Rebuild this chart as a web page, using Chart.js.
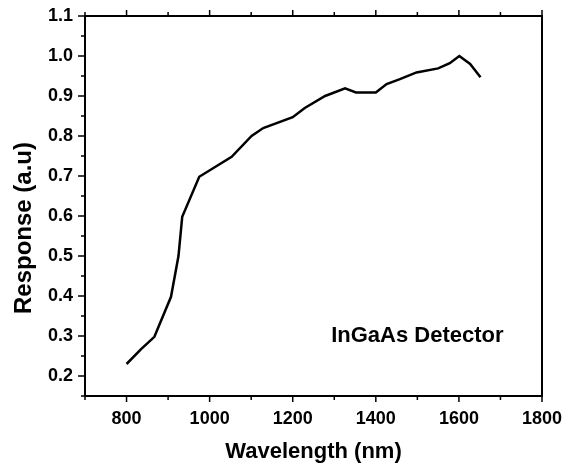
<!DOCTYPE html>
<html>
<head>
<meta charset="utf-8">
<script src="https://cdn.jsdelivr.net/npm/chart.js@4/dist/chart.umd.min.js"></script>
<style>
  html, body { margin: 0; padding: 0; background: #fff; }
  #wrap { width: 566px; height: 471px; }
</style>
</head>
<body>
<div id="wrap"><canvas id="c" width="566" height="471"></canvas></div>
<script>
// ---- data ----
const wavelength = [800, 835, 867, 907, 925, 934, 975, 1017, 1053, 1101, 1129, 1200, 1229, 1278, 1326, 1352, 1400, 1426, 1458, 1498, 1550, 1578, 1601, 1627, 1652];
const response   = [0.23, 0.267, 0.298, 0.398, 0.50, 0.598, 0.698, 0.725, 0.748, 0.80, 0.82, 0.847, 0.87, 0.90, 0.919, 0.909, 0.909, 0.93, 0.942, 0.959, 0.969, 0.982, 1.00, 0.98, 0.947];
const xTickLabels = [800, 1000, 1200, 1400, 1600, 1800];
const yTickLabels = [0.2, 0.3, 0.4, 0.5, 0.6, 0.7, 0.8, 0.9, 1.0, 1.1];
const xMinorTicks = [700, 900, 1100, 1300, 1500, 1700];
const yMinorTicks = [0.15, 0.25, 0.35, 0.45, 0.55, 0.65, 0.75, 0.85, 0.95, 1.05];
const seriesLabel = 'InGaAs Detector';
const xTitle = 'Wavelength (nm)';
const yTitle = 'Response (a.u)';

const FONT = '"Liberation Sans", Arial, sans-serif';

const framePlugin = {
  id: 'frame',
  afterDraw(chart) {
    const {ctx, chartArea: a, scales: {x, y}} = chart;
    ctx.save();
    ctx.strokeStyle = '#000';
    ctx.lineWidth = 2;
    ctx.strokeRect(a.left, a.top, a.right - a.left, a.bottom - a.top);
    ctx.lineWidth = 1.5;
    ctx.beginPath();
    const xt = (v, len) => {
      const px = x.getPixelForValue(v);
      ctx.moveTo(px, a.bottom); ctx.lineTo(px, a.bottom + len);
      ctx.moveTo(px, a.top); ctx.lineTo(px, a.top - len);
    };
    const yt = (v, len) => {
      const py = y.getPixelForValue(v);
      ctx.moveTo(a.left, py); ctx.lineTo(a.left - len, py);
    };
    xTickLabels.forEach(v => xt(v, 6));
    xMinorTicks.forEach(v => xt(v, 4));
    yTickLabels.forEach(v => yt(v, 7));
    yMinorTicks.forEach(v => yt(v, 4));
    ctx.stroke();

    // in-plot label
    ctx.fillStyle = '#000';
    ctx.font = 'bold 22px ' + FONT;
    ctx.textAlign = 'center';
    ctx.textBaseline = 'middle';
    ctx.fillText(seriesLabel, x.getPixelForValue(1500), y.getPixelForValue(0.30));

    // y axis title
    ctx.translate(24, 228);
    ctx.rotate(-Math.PI / 2);
    ctx.font = 'bold 24px ' + FONT;
    ctx.fillText(yTitle, 0, 0);
    ctx.restore();
  }
};

new Chart(document.getElementById('c'), {
  type: 'line',
  data: {
    datasets: [{
      label: seriesLabel,
      data: wavelength.map((w, i) => ({x: w, y: response[i]})),
      borderColor: '#000',
      borderWidth: 2.5,
      pointRadius: 0,
      tension: 0,
      fill: false
    }]
  },
  options: {
    responsive: false,
    animation: false,
    layout: { padding: { top: 16, right: 24, left: 0, bottom: 0 } },
    plugins: { legend: { display: false }, tooltip: { enabled: false } },
    scales: {
      x: {
        type: 'linear',
        min: 700, max: 1800,
        afterBuildTicks: s => { s.ticks = xTickLabels.map(v => ({value: v})); },
        afterFit: s => { s.height = 75; s.paddingLeft = 0; s.paddingRight = 0; },
        grid: { display: false, drawTicks: false },
        border: { display: false },
        ticks: { color: '#000', font: { family: FONT, size: 18, weight: 'bold' }, padding: 12, autoSkip: false, maxRotation: 0, callback: v => String(v) },
        title: { display: true, text: xTitle, color: '#000', font: { family: FONT, size: 22, weight: 'bold' }, padding: { top: 0, bottom: 6 } }
      },
      y: {
        type: 'linear',
        min: 0.15, max: 1.1,
        afterBuildTicks: s => { s.ticks = yTickLabels.map(v => ({value: v})); },
        afterFit: s => { s.width = 85; s.paddingTop = 0; s.paddingBottom = 0; },
        grid: { display: false, drawTicks: false },
        border: { display: false },
        ticks: { color: '#000', font: { family: FONT, size: 18, weight: 'bold' }, padding: 12, callback: v => Number(v).toFixed(1) }
      }
    }
  },
  plugins: [framePlugin]
});
</script>
</body>
</html>
